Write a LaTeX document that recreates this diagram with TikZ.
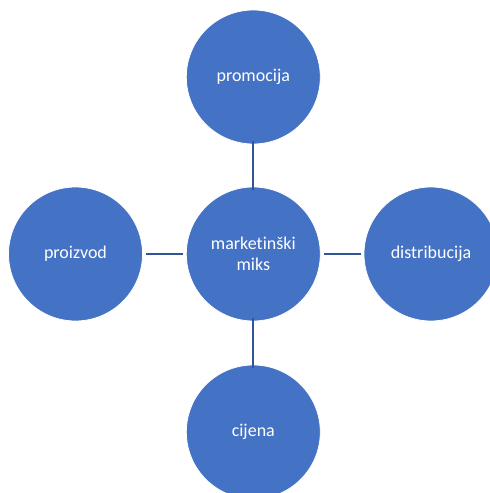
\documentclass[tikz,border=0pt]{standalone}
\usepackage{fontspec}
\setmainfont{Carlito}[Ligatures=NoCommon]
\definecolor{circfill}{HTML}{4472C4}
\definecolor{linkcol}{HTML}{2F5597}
\begin{document}
\begin{tikzpicture}[x=1bp,y=-1bp,
  bubble/.style={circle,fill=circfill,draw=white,line width=0.8bp,minimum size=134bp,inner sep=0pt,
    text=white,font=\fontsize{18bp}{21.5bp}\selectfont,align=center},
  link/.style={draw=linkcol,line width=2.2bp}]
\useasboundingbox (0,0) rectangle (490,493);
\begin{scope}
\clip (0,0) rectangle (490,493);
\node[bubble] (c) at (253.3,254) {marketinški\\miks};
\node[bubble] (t) at (253.3,77) {promocija};
\node[bubble] (l) at (75.5,254) {proizvod};
\node[bubble] (r) at (431,254) {distribucija};
\node[bubble] (b) at (253.3,432) {cijena};
\path[link] ([yshift=3bp]t.south) -- ([yshift=-3bp]c.north);
\path[link] ([yshift=-3bp]b.north) -- ([yshift=3bp]c.south);
\path[link] ([xshift=3bp]l.east) -- ([xshift=-3bp]c.west);
\path[link] ([xshift=-3bp]r.west) -- ([xshift=3bp]c.east);
\end{scope}
\end{tikzpicture}
\end{document}
